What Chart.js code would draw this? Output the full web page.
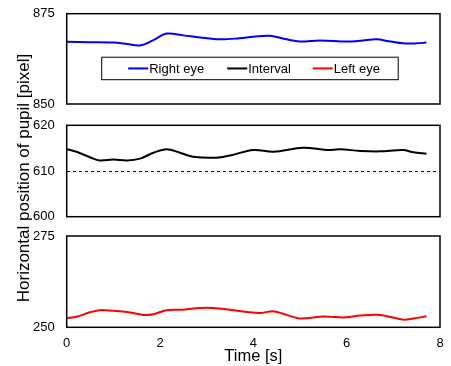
<!DOCTYPE html>
<html>
<head>
<meta charset="utf-8">
<script src="https://cdn.jsdelivr.net/npm/chart.js@4"></script>
<style>
  body { margin: 0; background: #fff; }
  #wrap { position: relative; width: 451px; height: 366px; overflow: hidden; font-family: "Liberation Sans", Arial, sans-serif; }
  canvas { position: absolute; left: 0; }
  #ytitle {
    position: absolute; left: -126px; top: 168px; width: 300px; height: 20px;
    line-height: 20px; text-align: center; font-size: 17px; color: #000;
    transform: rotate(-90deg);
  }
</style>
</head>
<body>
<div id="wrap">
  <canvas id="c1" width="451" height="120" style="top:0px"></canvas>
  <canvas id="c2" width="451" height="120" style="top:110px"></canvas>
  <canvas id="c3" width="451" height="146" style="top:220px"></canvas>
  <div id="ytitle">Horizontal position of pupil [pixel]</div>
</div>
<script>
// data
var seriesNames = ["Right eye", "Interval", "Left eye"];
var seriesColors = ["#0000ff", "#000000", "#ff0000"];

var timeRight = [0, 0.5, 1.0, 1.3, 1.57, 1.85, 2.14, 2.5, 2.86, 3.29, 3.7, 4.0, 4.36, 4.71, 5.0, 5.43, 6.0, 6.3, 6.64, 6.9, 7.21, 7.5, 7.71];
var rightEye = [867.2, 867.1, 867.0, 866.6, 866.2, 867.6, 869.5, 869.0, 868.4, 867.9, 868.2, 868.6, 868.9, 867.9, 867.3, 867.6, 867.3, 867.5, 867.9, 867.4, 866.8, 866.8, 867.0];

var timeInterval = [0, 0.21, 0.5, 0.71, 1.0, 1.29, 1.57, 1.86, 2.14, 2.43, 2.71, 3.21, 3.5, 4.0, 4.43, 5.07, 5.57, 5.86, 6.29, 6.71, 7.21, 7.43, 7.71];
var interval = [614.75, 614.2, 613.0, 612.3, 612.5, 612.3, 612.7, 614.0, 614.75, 614.0, 613.1, 612.9, 613.4, 614.6, 614.2, 615.1, 614.6, 614.75, 614.4, 614.3, 614.6, 614.1, 613.8];

var timeLeft = [0, 0.21, 0.5, 0.71, 1.0, 1.29, 1.64, 1.86, 2.14, 2.5, 2.86, 3.14, 3.5, 3.86, 4.14, 4.43, 4.71, 4.96, 5.14, 5.43, 5.64, 5.93, 6.29, 6.71, 7.21, 7.43, 7.71];
var leftEye = [252.5, 252.9, 254.1, 254.7, 254.5, 254.2, 253.4, 253.6, 254.7, 254.8, 255.3, 255.3, 254.8, 254.2, 253.9, 254.4, 253.4, 252.5, 252.5, 252.9, 252.9, 252.7, 253.2, 253.4, 252.1, 252.4, 253.0];

var xTicks = [0, 2, 4, 6, 8];
var rightTicks = [850, 875];
var intervalTicks = [600, 610, 620];
var leftTicks = [250, 275];

Chart.defaults.font.family = '"Liberation Sans", Arial, sans-serif';
Chart.defaults.color = '#000';

function toPoints(xs, ys) {
  var pts = [];
  for (var i = 0; i < xs.length; i++) {
    pts.push({ x: xs[i], y: ys[i] });
  }
  return pts;
}

// black frame around each plot area
var boxPlugin = {
  id: 'box',
  afterDraw: function (chart) {
    var a = chart.chartArea;
    var ctx = chart.ctx;
    ctx.save();
    ctx.strokeStyle = '#000';
    ctx.lineWidth = 1.5;
    ctx.strokeRect(a.left, a.top, a.right - a.left, a.bottom - a.top);
    ctx.restore();
  }
};

// legend box drawn inside the top panel
var legendPlugin = {
  id: 'insideLegend',
  afterDraw: function (chart) {
    var a = chart.chartArea;
    var ctx = chart.ctx;
    var x0 = a.left + 35, y0 = a.top + 43.5, w = 296.5, h = 22.5;
    ctx.save();
    ctx.fillStyle = '#fff';
    ctx.fillRect(x0, y0, w, h);
    ctx.strokeStyle = '#000';
    ctx.lineWidth = 1;
    ctx.strokeRect(x0, y0, w, h);
    var starts = [a.left + 61.5, a.left + 160.5, a.left + 246];
    ctx.font = '13px "Liberation Sans", Arial, sans-serif';
    ctx.textBaseline = 'middle';
    for (var i = 0; i < seriesNames.length; i++) {
      var yy = y0 + h / 2;
      ctx.strokeStyle = seriesColors[i];
      ctx.lineWidth = 2;
      ctx.beginPath();
      ctx.moveTo(starts[i], yy);
      ctx.lineTo(starts[i] + 20, yy);
      ctx.stroke();
      ctx.fillStyle = '#000';
      ctx.fillText(seriesNames[i], starts[i] + 21, yy + 0.5);
    }
    ctx.restore();
  }
};

function makeChart(id, pts, color, yMin, yMax, yTicks, opts) {
  var yScale = {
    type: 'linear',
    min: yMin,
    max: yMax,
    afterFit: function (scale) {
      scale.width = 66.7;
      scale.paddingTop = 0;
      scale.paddingBottom = 0;
    },
    afterBuildTicks: function (scale) {
      scale.ticks = yTicks.map(function (v) { return { value: v }; });
    },
    border: { display: false },
    grid: {
      display: opts.dashed,
      drawTicks: false,
      color: '#000',
      lineWidth: 1
    },
    ticks: { padding: 12, font: { size: 13 } }
  };
  if (opts.dashed) {
    yScale.border = { display: false, dash: [3, 3] };
  }
  var xScale = {
    type: 'linear',
    min: 0,
    max: 8,
    display: opts.showX,
    afterFit: function (scale) {
      scale.paddingLeft = 0;
      scale.paddingRight = 0;
      if (opts.showX) scale.height = 38.7;
    },
    afterBuildTicks: function (scale) {
      scale.ticks = xTicks.map(function (v) { return { value: v }; });
    },
    border: { display: false },
    grid: { display: false, drawTicks: false },
    ticks: { padding: 8, font: { size: 13 } },
    title: { display: true, text: 'Time [s]', font: { size: 16.5 }, padding: { top: 0, bottom: 0 } }
  };
  return new Chart(document.getElementById(id), {
    type: 'line',
    data: {
      datasets: [{
        data: pts,
        borderColor: color,
        borderWidth: 2,
        pointRadius: 0,
        tension: 0.35,
        fill: false
      }]
    },
    options: {
      responsive: false,
      animation: false,
      layout: { padding: opts.padding },
      plugins: { legend: { display: false }, tooltip: { enabled: false } },
      scales: { x: xScale, y: yScale }
    },
    plugins: opts.legend ? [boxPlugin, legendPlugin] : [boxPlugin]
  });
}

makeChart('c1', toPoints(timeRight, rightEye), seriesColors[0], 850, 875, rightTicks,
  { dashed: false, showX: false, legend: true, padding: { top: 13.7, bottom: 16, left: 0, right: 11 } });

makeChart('c2', toPoints(timeInterval, interval), seriesColors[1], 600, 620, intervalTicks,
  { dashed: true, showX: false, legend: false, padding: { top: 15.3, bottom: 13.3, left: 0, right: 11 } });

makeChart('c3', toPoints(timeLeft, leftEye), seriesColors[2], 250, 275, leftTicks,
  { dashed: false, showX: true, legend: false, padding: { top: 16, bottom: 0, left: 0, right: 11 } });
</script>
</body>
</html>
